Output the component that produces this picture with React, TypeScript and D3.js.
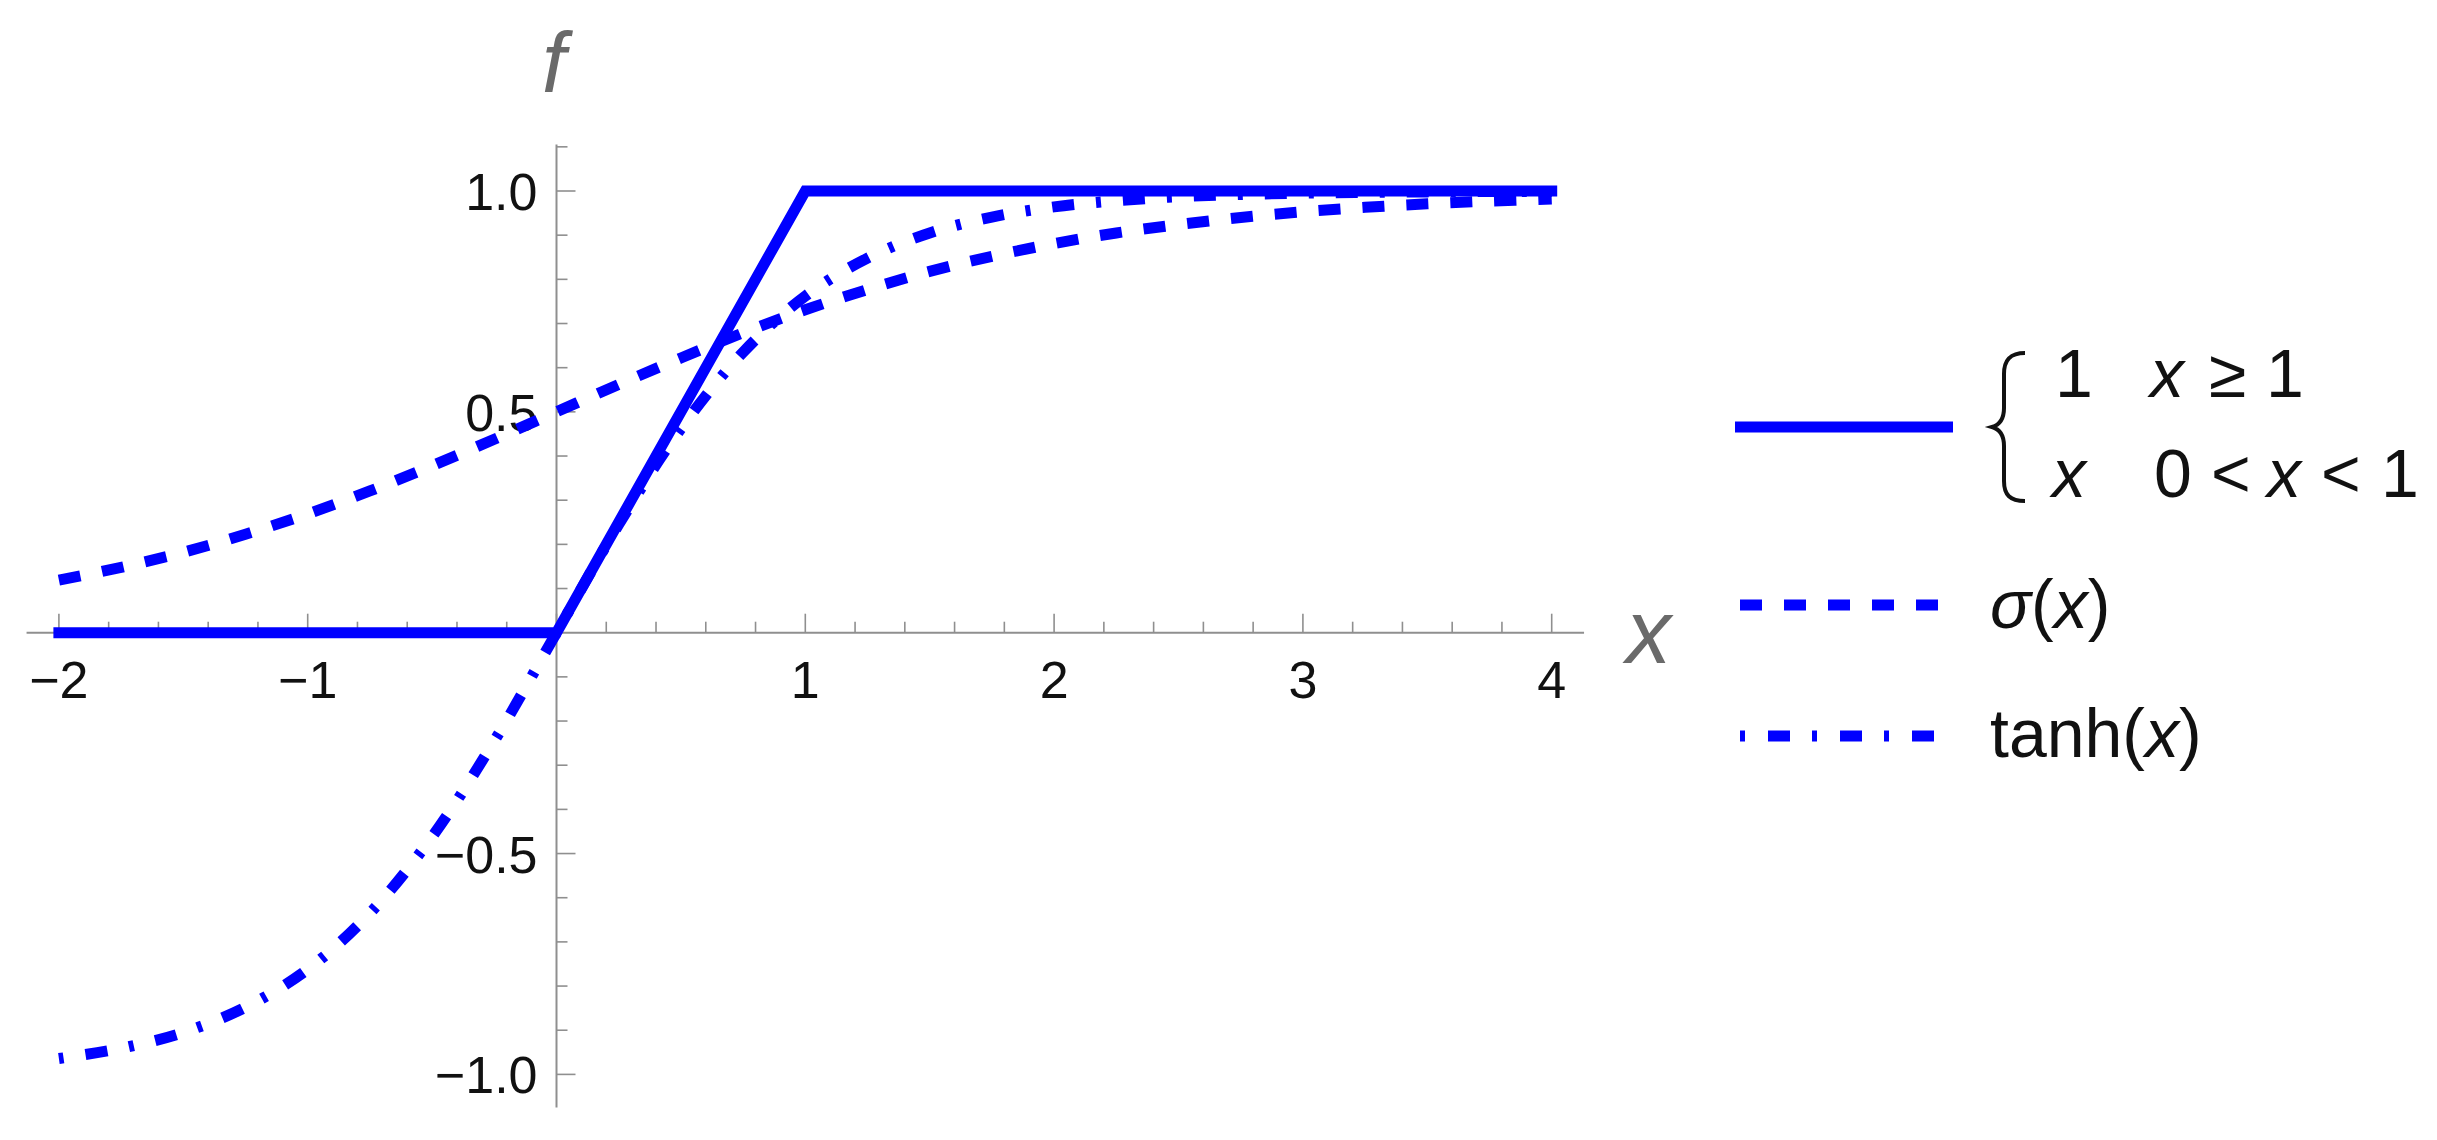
import React from "react";
import * as d3 from "d3";

const W = 2437;
const H = 1140;

// curve samples
const xSamples = [-2, -1.75, -1.5, -1.25, -1, -0.75, -0.5, -0.25, 0, 0.25, 0.5, 0.75, 1, 1.25, 1.5, 1.75, 2, 2.25, 2.5, 2.75, 3, 3.25, 3.5, 3.75, 4];
const sigmaValues = [0.119, 0.148, 0.182, 0.223, 0.269, 0.321, 0.378, 0.438, 0.5, 0.562, 0.622, 0.679, 0.731, 0.777, 0.818, 0.852, 0.881, 0.905, 0.924, 0.94, 0.953, 0.963, 0.971, 0.977, 0.982];
const tanhValues = [-0.964, -0.941, -0.905, -0.848, -0.762, -0.635, -0.462, -0.245, 0, 0.245, 0.462, 0.635, 0.762, 0.848, 0.905, 0.941, 0.964, 0.978, 0.987, 0.992, 0.995, 0.997, 0.998, 0.999, 0.999];
const pieceX = [-2, 0, 1, 4];
const pieceY = [0, 0, 1, 1];

const xTickLabels = [-2, -1, 1, 2, 3, 4];
const yTickLabels = [-1.0, -0.5, 0.5, 1.0];

const BLUE = "#0000ff";
const AXIS = "#8f8f8f";
const LABEL_GRAY = "#6a6a6a";

export default function App() {
  const x = d3.scaleLinear().domain([0, 1]).range([556.5, 805.3]);
  const y = d3.scaleLinear().domain([0, 1]).range([632.7, 191]);

  const xAxisStart = x(-2.13);
  const xAxisEnd = x(4.13);
  const yAxisTop = y(1.105);
  const yAxisBottom = y(-1.075);

  const line = d3
    .line<[number, number]>()
    .x((d) => x(d[0]))
    .y((d) => y(d[1]));
  const smooth = d3
    .line<[number, number]>()
    .x((d) => x(d[0]))
    .y((d) => y(d[1]))
    .curve(d3.curveCatmullRom.alpha(0.5));

  const pieceData = pieceX.map((v, i) => [v, pieceY[i]] as [number, number]);
  const sigmaData = xSamples.map((v, i) => [v, sigmaValues[i]] as [number, number]);
  const tanhData = xSamples.map((v, i) => [v, tanhValues[i]] as [number, number]);

  const xMinor: number[] = d3.range(-20, 41, 2).map((v) => v / 10);
  const yMinor: number[] = d3.range(-10, 12, 1).map((v) => v / 10).filter((v) => Math.abs(v) > 1e-9);

  const tickFont = "'Liberation Sans', Arial, sans-serif";
  const fmtY = (v: number) => (v < 0 ? "\u2212" + Math.abs(v).toFixed(1) : v.toFixed(1));
  const fmtX = (v: number) => (v < 0 ? "\u2212" + Math.abs(v) : String(v));

  const isMajorX = (v: number) => Math.abs(v - Math.round(v)) < 1e-9;
  const isMajorY = (v: number) => Math.abs(v * 2 - Math.round(v * 2)) < 1e-9;

  const legendFont = 68;

  return (
    <svg
      width={W}
      height={H}
      style={{ position: "absolute", left: 0, top: 0, background: "#fff" }}
      xmlns="http://www.w3.org/2000/svg"
    >
      <rect x={0} y={0} width={W} height={H} fill="#fff" />
      {/* axes */}
      <line x1={xAxisStart} x2={xAxisEnd} y1={y(0)} y2={y(0)} stroke={AXIS} strokeWidth={2} />
      <line x1={x(0)} x2={x(0)} y1={yAxisTop} y2={yAxisBottom} stroke={AXIS} strokeWidth={2} />
      {xMinor.map((v) => (
        <line
          key={"xt" + v}
          x1={x(v)}
          x2={x(v)}
          y1={y(0)}
          y2={y(0) - (isMajorX(v) ? 19 : 11)}
          stroke={AXIS}
          strokeWidth={1.6}
        />
      ))}
      {yMinor.map((v) => (
        <line
          key={"yt" + v}
          x1={x(0)}
          x2={x(0) + (isMajorY(v) ? 19 : 11)}
          y1={y(v)}
          y2={y(v)}
          stroke={AXIS}
          strokeWidth={1.6}
        />
      ))}
      {xTickLabels.map((v) => (
        <text
          key={"xl" + v}
          x={x(v)}
          y={698}
          textAnchor="middle"
          fontFamily={tickFont}
          fontSize={52}
          fill="#111"
        >
          {fmtX(v)}
        </text>
      ))}
      {yTickLabels.map((v) => (
        <text
          key={"yl" + v}
          x={x(0) - 19}
          y={y(v) + 19}
          textAnchor="end"
          fontFamily={tickFont}
          fontSize={52}
          fill="#111"
        >
          {fmtY(v)}
        </text>
      ))}
      {/* axis labels */}
      <text x={542} y={92} fontFamily={tickFont} fontStyle="italic" fontSize={85} fill={LABEL_GRAY}>
        f
      </text>
      <text x={1626} y={663} fontFamily={tickFont} fontStyle="italic" fontSize={90} fill={LABEL_GRAY}>
        x
      </text>

      {/* curves */}
      <path d={line(pieceData) || ""} fill="none" stroke={BLUE} strokeWidth={11} strokeLinejoin="miter" strokeLinecap="square" />
      <path d={smooth(sigmaData) || ""} fill="none" stroke={BLUE} strokeWidth={11} strokeDasharray="22 22" strokeLinecap="butt" />
      <path d={smooth(tanhData) || ""} fill="none" stroke={BLUE} strokeWidth={11} strokeDasharray="5 22 22 22" strokeLinecap="butt" />

      {/* legend */}
      <line x1={1735} x2={1953} y1={427} y2={427} stroke={BLUE} strokeWidth={11} />
      <line x1={1740} x2={1938} y1={605} y2={605} stroke={BLUE} strokeWidth={11} strokeDasharray="22 22" />
      <line x1={1740} x2={1936} y1={736} y2={736} stroke={BLUE} strokeWidth={11} strokeDasharray="5 23 22 22" />

      <path
        d="M 2025 353 C 2010 353, 2004 360, 2004 374 L 2004 408 C 2004 420, 1999 425, 1992 427 C 1999 429, 2004 434, 2004 446 L 2004 481 C 2004 495, 2010 501, 2025 501"
        fill="none"
        stroke="#111"
        strokeWidth={4}
      />
      <g fontFamily={tickFont} fontSize={legendFont} fill="#111">
        <text x={2055} y={397}>1</text>
        <text x={2150} y={397} fontStyle="italic">x</text>
        <text x={2209} y={397}>≥</text>
        <text x={2266} y={397}>1</text>

        <text x={2052} y={497} fontStyle="italic">x</text>
        <text x={2154} y={497}>0</text>
        <text x={2211} y={497}>&lt;</text>
        <text x={2267} y={497} fontStyle="italic">x</text>
        <text x={2321} y={497}>&lt;</text>
        <text x={2381} y={497}>1</text>

        <text x={1990} y={628}>
          <tspan fontStyle="italic">σ</tspan>(<tspan fontStyle="italic">x</tspan>)
        </text>
        <text x={1990} y={757}>
          tanh(<tspan fontStyle="italic">x</tspan>)
        </text>
      </g>
    </svg>
  );
}
